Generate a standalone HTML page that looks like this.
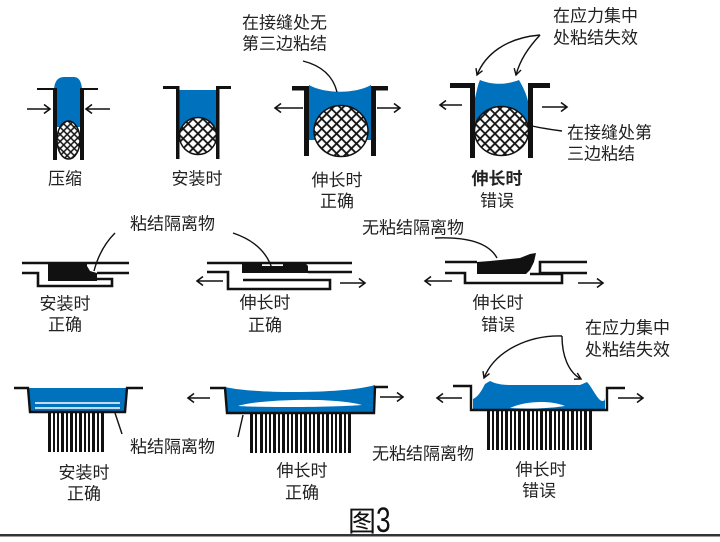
<!DOCTYPE html>
<html>
<head>
<meta charset="utf-8">
<style>
html,body{margin:0;padding:0;background:#fff;}
body{width:720px;height:542px;overflow:hidden;}
svg{display:block;}
text{font-family:"Liberation Sans","Noto Sans CJK SC","WenQuanYi Zen Hei",sans-serif;fill:#222;font-size:17px;}
</style>
</head>
<body>
<svg width="720" height="542" viewBox="0 0 720 542" xmlns="http://www.w3.org/2000/svg">
<defs>
<pattern id="hb" width="7" height="7" patternUnits="userSpaceOnUse" patternTransform="rotate(45)">
<rect width="7" height="7" fill="#fff"/>
<line x1="3.5" y1="0" x2="3.5" y2="7" stroke="#111" stroke-width="1.8"/>
<line x1="0" y1="3.5" x2="7" y2="3.5" stroke="#111" stroke-width="1.8"/>
</pattern>
<pattern id="hs" width="5" height="5" patternUnits="userSpaceOnUse" patternTransform="rotate(45)">
<rect width="5" height="5" fill="#fff"/>
<line x1="2.5" y1="0" x2="2.5" y2="5" stroke="#111" stroke-width="1.5"/>
<line x1="0" y1="2.5" x2="5" y2="2.5" stroke="#111" stroke-width="1.5"/>
</pattern>
</defs>

<g stroke="#111" fill="none" stroke-width="1.6">
<!-- ===== Fig 1 ===== -->
<path d="M54,89 Q55,77 64,77 L74,77 Q81,77 82,89 L80,89 L80,127 L57,127 L57,89 Z" fill="#0071bc" stroke="none"/>
<ellipse cx="68.5" cy="140" rx="11.5" ry="19" fill="url(#hs)" stroke-width="1.5"/>
<rect x="53" y="88" width="4" height="72" fill="#111" stroke="none"/>
<rect x="80" y="88" width="4" height="72" fill="#111" stroke="none"/>
<line x1="37" y1="89" x2="55" y2="89" stroke-width="2"/>
<line x1="82" y1="89" x2="98" y2="89" stroke-width="2"/>
<line x1="27" y1="109" x2="50" y2="109"/><polyline points="44,104.5 50,109 44,113.5"/>
<line x1="110" y1="109" x2="86" y2="109"/><polyline points="92,104.5 86,109 92,113.5"/>

<!-- ===== Fig 2 ===== -->
<rect x="179.5" y="90" width="36.5" height="46" fill="#0071bc" stroke="none"/>
<circle cx="198" cy="136" r="18.5" fill="url(#hb)" stroke-width="1.5"/>
<rect x="176" y="86" width="3.5" height="73" fill="#111" stroke="none"/>
<rect x="216" y="86" width="3.5" height="73" fill="#111" stroke="none"/>
<line x1="163" y1="87.5" x2="178" y2="87.5" stroke-width="3"/>
<line x1="217" y1="87.5" x2="231" y2="87.5" stroke-width="3"/>

<!-- ===== Fig 3 ===== -->
<path d="M309,85 C325,94 355,94 371,85 L371,140 L309,140 Z" fill="#0071bc" stroke="none"/>
<ellipse cx="341" cy="131" rx="27" ry="25.5" fill="url(#hb)" stroke-width="1.5"/>
<rect x="304" y="86" width="5" height="70" fill="#111" stroke="none"/>
<rect x="371" y="86" width="5" height="70" fill="#111" stroke="none"/>
<rect x="292" y="86" width="14" height="4.5" fill="#111" stroke="none"/>
<rect x="373" y="86" width="15" height="4.5" fill="#111" stroke="none"/>
<line x1="303" y1="108" x2="275" y2="108"/><polyline points="281,103.5 275,108 281,112.5"/>
<line x1="377" y1="108" x2="400" y2="108"/><polyline points="394,103.5 400,108 394,112.5"/>
<path d="M303,61 Q331,68 337,92" stroke-width="1.4"/>

<!-- ===== Fig 4 ===== -->
<path d="M475,98 C477,90 478,84 480,80 C492,85 506,85 519,80 C523,87 526,93 528,101 L528,124 L475,124 Z" fill="#0071bc" stroke="none"/>
<ellipse cx="501.5" cy="131" rx="27" ry="24.5" fill="url(#hb)" stroke-width="1.5"/>
<rect x="470" y="83" width="5" height="75" fill="#111" stroke="none"/>
<rect x="528" y="83" width="5" height="75" fill="#111" stroke="none"/>
<rect x="450" y="83" width="23" height="5" fill="#111" stroke="none"/>
<rect x="530" y="83" width="20" height="5" fill="#111" stroke="none"/>
<line x1="462" y1="105" x2="440" y2="105"/><polyline points="446,100.5 440,105 446,109.5"/>
<line x1="542" y1="107" x2="567" y2="107"/><polyline points="561,102.5 567,107 561,111.5"/>
<path d="M540,35 C505,38 485,55 477,75" stroke-width="1.4"/><polyline points="482.5,70.7 477,75 476,68.1" stroke-width="1.4"/>
<path d="M540,35 C528,48 520,60 516,75" stroke-width="1.4"/><polyline points="521,70 516,75 514.2,68.2" stroke-width="1.4"/>
<path d="M532,126 Q546,129 562,131" stroke-width="1.4"/>

<!-- ===== Fig 5 ===== -->
<polygon points="48,263 87,263 87,266 90,271 97,273 97,281 48,281" fill="#111" stroke="none"/>
<line x1="22" y1="263" x2="129" y2="263" stroke-width="2.6"/>
<polyline points="22,273 38,273 38,286 112,286 112,279 97,279" stroke-width="2.6"/>
<line x1="97" y1="273" x2="129" y2="273" stroke-width="2.6"/>
<path d="M115,233 Q100,248 94,271" stroke-width="1.4"/>

<!-- ===== Fig 6 ===== -->
<polygon points="242,262 262,262 262,266 283,266 283,262 304,262 308,266 308,273 242,273" fill="#111" stroke="none"/>
<line x1="207" y1="263" x2="352" y2="263" stroke-width="2.6"/>
<line x1="308" y1="272" x2="352" y2="272" stroke-width="2.6"/>
<polyline points="207,272 228,272 228,289 330,289 330,280 243,280" stroke-width="2.6"/>
<line x1="223" y1="281" x2="197" y2="281"/><polyline points="203,276.5 197,281 203,285.5"/>
<line x1="340" y1="283" x2="365" y2="283"/><polyline points="359,278.5 365,283 359,287.5"/>
<path d="M233,233 Q266,244 273,272" stroke-width="1.4"/>

<!-- ===== Fig 7 ===== -->
<polygon points="477,262 490,261 520,258 530,254 536,253 534,262 530,270 526,274 477,274" fill="#111" stroke="none"/>
<line x1="445" y1="262" x2="477" y2="262" stroke-width="2.6"/>
<polyline points="587,262 540,262 540,273 587,273" stroke-width="2.6"/>
<polyline points="445,273 465,273 465,283 562,283 562,274 530,274" stroke-width="2.6"/>
<line x1="452" y1="281" x2="425" y2="281"/><polyline points="431,276.5 425,281 431,285.5"/>
<line x1="578" y1="283" x2="603" y2="283"/><polyline points="597,278.5 603,283 597,287.5"/>
<path d="M435,238 Q485,236 497,258" stroke-width="1.4"/>

<!-- ===== Fig 8 ===== -->
<polygon points="28,388 127,388 125,412 30,412" fill="#0071bc" stroke="none"/>
<line x1="35" y1="403" x2="120" y2="403" stroke="#fff" stroke-width="1.6"/>
<line x1="35" y1="408" x2="120" y2="408" stroke="#fff" stroke-width="1.6"/>
<polyline points="14,388 28,388 30,412 125,412 127,388 143,388" stroke-width="2.4"/>
<g fill="#111" stroke="none">
<rect x="48" y="413" width="3" height="39"/><rect x="53" y="413" width="2" height="39"/><rect x="57" y="413" width="2" height="39"/>
<rect x="61" y="413" width="3" height="39"/><rect x="66" y="413" width="2" height="39"/><rect x="70" y="413" width="3" height="39"/>
<rect x="75" y="413" width="2" height="39"/><rect x="79" y="413" width="3" height="39"/><rect x="84" y="413" width="2" height="39"/>
<rect x="88" y="413" width="2" height="39"/><rect x="92" y="413" width="3" height="39"/><rect x="97" y="413" width="2" height="39"/>
<rect x="101" y="413" width="3" height="39"/>
</g>
<line x1="115" y1="413" x2="122" y2="434" stroke-width="1.4"/>

<!-- ===== Fig 9 ===== -->
<path d="M225,387 C255,394 345,394 375,385 L374,413 L227,413 Z" fill="#0071bc" stroke="none"/>
<path d="M238,406 C260,399 335,397 362,405 C330,407.5 262,407.5 238,406 Z" fill="#fff" stroke="none"/>
<polyline points="210,388 225,388 227,413 374,413 375,387 388,387" stroke-width="2.4"/>
<g fill="#111" stroke="none">
<rect x="250" y="414" width="3" height="39"/><rect x="255" y="414" width="2" height="39"/><rect x="260" y="414" width="3" height="39"/>
<rect x="265" y="414" width="2" height="39"/><rect x="269" y="414" width="2" height="39"/><rect x="273" y="414" width="3" height="39"/>
<rect x="278" y="414" width="2" height="39"/><rect x="282" y="414" width="3" height="39"/><rect x="287" y="414" width="2" height="39"/>
<rect x="291" y="414" width="2" height="39"/><rect x="295" y="414" width="3" height="39"/><rect x="300" y="414" width="2" height="39"/>
<rect x="304" y="414" width="3" height="39"/><rect x="309" y="414" width="2" height="39"/><rect x="313" y="414" width="2" height="39"/>
<rect x="317" y="414" width="3" height="39"/><rect x="322" y="414" width="2" height="39"/><rect x="326" y="414" width="3" height="39"/>
<rect x="331" y="414" width="2" height="39"/><rect x="335" y="414" width="2" height="39"/><rect x="339" y="414" width="3" height="39"/>
<rect x="344" y="414" width="2" height="39"/><rect x="348" y="414" width="3" height="39"/>
</g>
<line x1="243" y1="415" x2="238" y2="437" stroke-width="1.4"/>
<line x1="210" y1="398" x2="188" y2="398"/><polyline points="194,393.5 188,398 194,402.5"/>
<line x1="380" y1="397" x2="403" y2="397"/><polyline points="397,392.5 403,397 397,401.5"/>

<!-- ===== Fig 10 ===== -->
<path d="M473,409 L473,399 C478,397 482,390 485,384 L490,381 C496,384 502,385 512,385 L580,385 L587,382 C591,386 595,395 600,400 C603,402 605,401 605,398 L605,409 Z" fill="#0071bc" stroke="none"/>
<path d="M510,408 C525,401 550,400 565,406 C545,409 525,409 510,408 Z" fill="#fff" stroke="none"/>
<polyline points="453,386 471,386 471,410 607,410 607,388 625,388" stroke-width="2.4"/>
<g fill="#111" stroke="none">
<rect x="487" y="411" width="3" height="39"/><rect x="492" y="411" width="2" height="39"/><rect x="496" y="411" width="3" height="39"/>
<rect x="501" y="411" width="2" height="39"/><rect x="505" y="411" width="3" height="39"/><rect x="510" y="411" width="2" height="39"/>
<rect x="514" y="411" width="2" height="39"/><rect x="518" y="411" width="3" height="39"/><rect x="523" y="411" width="2" height="39"/>
<rect x="527" y="411" width="3" height="39"/><rect x="532" y="411" width="2" height="39"/><rect x="536" y="411" width="2" height="39"/>
<rect x="540" y="411" width="3" height="39"/><rect x="545" y="411" width="2" height="39"/><rect x="549" y="411" width="3" height="39"/>
<rect x="554" y="411" width="2" height="39"/><rect x="558" y="411" width="2" height="39"/><rect x="562" y="411" width="3" height="39"/>
<rect x="567" y="411" width="2" height="39"/><rect x="571" y="411" width="3" height="39"/><rect x="576" y="411" width="2" height="39"/>
<rect x="580" y="411" width="2" height="39"/><rect x="584" y="411" width="3" height="39"/><rect x="589" y="411" width="3" height="39"/>
</g>
<line x1="462" y1="398" x2="437" y2="398"/><polyline points="443,393.5 437,398 443,402.5"/>
<line x1="618" y1="398" x2="643" y2="398"/><polyline points="637,393.5 643,398 637,402.5"/>
<path d="M562,336 C530,335 495,350 484,378" stroke-width="1.4"/><polyline points="489.5,373.6 484,378 483,371.1" stroke-width="1.4"/>
<path d="M562,336 C562,355 568,372 581,379" stroke-width="1.4"/><polyline points="577.3,373 581,379 574,379.2" stroke-width="1.4"/>
</g>

<rect x="0" y="534" width="720" height="2.5" fill="#333"/>

<text x="65" y="184.5" text-anchor="middle">压缩</text>
<text x="197" y="184.5" text-anchor="middle">安装时</text>
<text x="337" y="186" text-anchor="middle">伸长时</text>
<text x="337" y="207" text-anchor="middle">正确</text>
<text x="242" y="28.5">在接缝处无</text>
<text x="242" y="49.5">第三边粘结</text>
<text x="497" y="184.5" text-anchor="middle" font-weight="bold">伸长时</text>
<text x="497" y="206.5" text-anchor="middle">错误</text>
<text x="553" y="21.5">在应力集中</text>
<text x="553" y="43.5">处粘结失效</text>
<text x="567" y="138.5">在接缝处第</text>
<text x="567" y="159.5">三边粘结</text>

<text x="130" y="229.5">粘结隔离物</text>
<text x="65" y="309.5" text-anchor="middle">安装时</text>
<text x="65" y="330.5" text-anchor="middle">正确</text>
<text x="265" y="308.5" text-anchor="middle">伸长时</text>
<text x="265" y="331" text-anchor="middle">正确</text>
<text x="362" y="233.5">无粘结隔离物</text>
<text x="498" y="308.5" text-anchor="middle">伸长时</text>
<text x="498" y="330.5" text-anchor="middle">错误</text>

<text x="130" y="452.5">粘结隔离物</text>
<text x="84" y="478.5" text-anchor="middle">安装时</text>
<text x="84" y="499.5" text-anchor="middle">正确</text>
<text x="302" y="476.5" text-anchor="middle">伸长时</text>
<text x="302" y="498.5" text-anchor="middle">正确</text>
<text x="372" y="459.5">无粘结隔离物</text>
<text x="585" y="333.5">在应力集中</text>
<text x="585" y="355.5">处粘结失效</text>
<text x="541" y="475.5" text-anchor="middle">伸长时</text>
<text x="539" y="496.5" text-anchor="middle">错误</text>

<text x="348" y="531" style="font-size:28px;fill:#111">图</text>
<text transform="translate(376,532) scale(0.75,1)" style="font-size:35px;fill:#111">3</text>
</svg>
</body>
</html>
